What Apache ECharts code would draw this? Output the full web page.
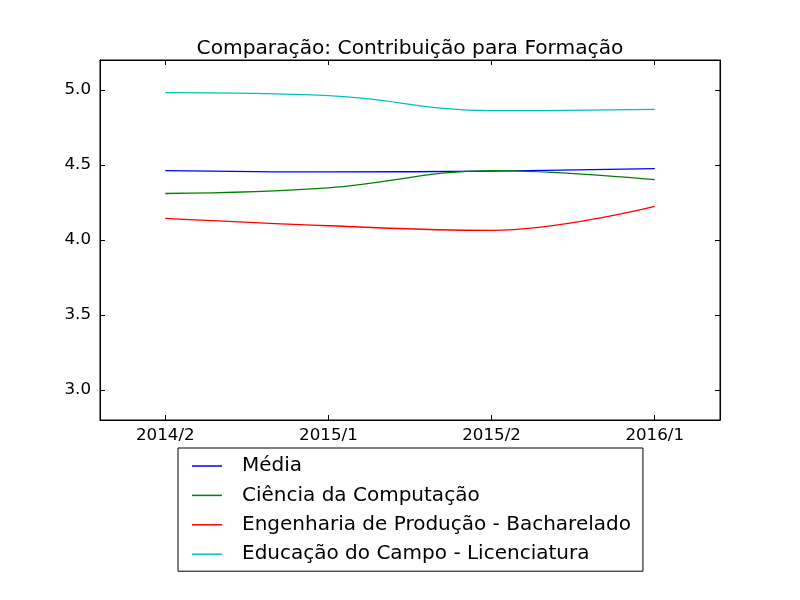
<!DOCTYPE html>
<html>
<head>
<meta charset="utf-8">
<script src="https://cdn.jsdelivr.net/npm/echarts@6/dist/echarts.min.js"></script>
<style>
  html, body { margin: 0; padding: 0; background: #fff; }
  #chart { width: 800px; height: 600px; }
</style>
</head>
<body>
<div id="chart"></div>
<script>
const semesters = ["2014/2", "2015/1", "2015/2", "2016/1"];
const yTicks = [3.0, 3.5, 4.0, 4.5, 5.0];

const media = [4.463, 4.454, 4.459, 4.476];
const cienciaComputacao = [4.31, 4.348, 4.463, 4.403];
const engenhariaProducao = [4.144, 4.095, 4.064, 4.224];
const educacaoCampo = [4.982, 4.962, 4.862, 4.871];

const seriesDefs = [
    { name: "Média", data: media, color: "#0000ff" },
    { name: "Ciência da Computação", data: cienciaComputacao, color: "#008000" },
    { name: "Engenharia de Produção - Bacharelado", data: engenhariaProducao, color: "#ff0000" },
    { name: "Educação do Campo - Licenciatura", data: educacaoCampo, color: "#00bfbf" },
];

const FONT = "DejaVu Sans";
const xIdx = semesters.map((_, i) => i);

const chart = echarts.init(document.getElementById("chart"));

const tickStyle = { show: true, inside: true, length: 5, lineStyle: { color: "#000", width: 1 } };

chart.setOption({
    animation: false,
    backgroundColor: "#fff",
    title: {
        text: "Comparação: Contribuição para Formação",
        left: 405,
        top: 34,
        textAlign: "center",
        textStyle: { fontFamily: FONT, fontSize: 20.2, fontWeight: "normal", color: "#000" },
    },
    legend: {
        orient: "vertical",
        left: 178,
        top: 448,
        padding: [7, 12, 6, 14],
        borderColor: "#000",
        borderWidth: 1,
        icon: "rect",
        itemWidth: 30,
        itemHeight: 1.5,
        itemGap: 7.4,
        data: seriesDefs.map((s) => s.name),
        textStyle: { fontFamily: FONT, fontSize: 20, color: "#000", lineHeight: 22, padding: [0, 0, 0, 15] },
    },
    grid: { left: 100, right: 80, top: 60, bottom: 180, show: true, borderColor: "#000", borderWidth: 1 },
    xAxis: [{
        type: "value",
        min: -0.4,
        max: 3.4,
        axisLine: { show: true, onZero: false, lineStyle: { color: "#000" } },
        axisTick: Object.assign({ customValues: xIdx }, tickStyle),
        splitLine: { show: false },
        axisLabel: {
            customValues: xIdx,
            formatter: (v) => semesters[Math.round(v)],
            fontFamily: FONT, fontSize: 16.7, color: "#000", margin: 7,
        },
    }, {
        type: "value",
        position: "top",
        min: -0.4,
        max: 3.4,
        axisLine: { show: true, onZero: false, lineStyle: { color: "#000" } },
        axisTick: Object.assign({ customValues: xIdx }, tickStyle),
        splitLine: { show: false },
        axisLabel: { show: false },
    }],
    yAxis: [{
        type: "value",
        min: 2.8,
        max: 5.2,
        axisLine: { show: true, onZero: false, lineStyle: { color: "#000" } },
        axisTick: Object.assign({ customValues: yTicks }, tickStyle),
        splitLine: { show: false },
        axisLabel: {
            customValues: yTicks,
            formatter: (v) => v.toFixed(1),
            fontFamily: FONT, fontSize: 16.7, color: "#000", margin: 9,
        },
    }, {
        type: "value",
        position: "right",
        min: 2.8,
        max: 5.2,
        axisLine: { show: true, onZero: false, lineStyle: { color: "#000" } },
        axisTick: Object.assign({ customValues: yTicks }, tickStyle),
        splitLine: { show: false },
        axisLabel: { show: false },
    }],
    series: seriesDefs.map((s) => ({
        name: s.name,
        type: "line",
        smooth: 0.4,
        symbol: "none",
        color: s.color,
        lineStyle: { width: 1.3, color: s.color },
        data: s.data.map((v, i) => [i, v]),
    })),
});
</script>
</body>
</html>
